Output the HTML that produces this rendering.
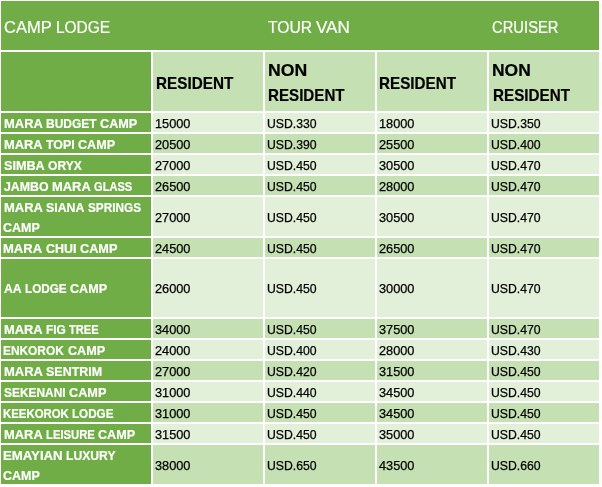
<!DOCTYPE html>
<html lang="en"><head><meta charset="utf-8"><title>Camp Lodge Rates</title>
<style>
html,body{margin:0;padding:0;background:#fff;}
body{width:602px;height:487px;position:relative;overflow:hidden;font-family:"Liberation Sans",sans-serif;}
.c{position:absolute;box-sizing:border-box;}
.t{position:absolute;left:0;white-space:nowrap;display:block;line-height:1;}
.w{position:absolute;top:0;display:block;transform-origin:0 0;white-space:nowrap;}
.h1 .t{color:#fff;font-size:16.8px;-webkit-text-stroke:0.2px #fff;}
.h2 .t{color:#000;font-weight:bold;font-size:15.7px;-webkit-text-stroke:0.2px #000;}
.n .t{color:#fff;font-weight:bold;font-size:13.2px;-webkit-text-stroke:0.2px #fff;}
.v .t{color:#000;font-size:12.6px;-webkit-text-stroke:0.25px #000;}
</style></head><body>

<div class="c h1" style="left:1px;top:1px;width:598px;height:49px;background:#70ad47"><span class="t" id="h1a" style="top:19.28px"><span class="w" style="left:2.66px;transform:scaleX(0.9836)">CAMP</span> <span class="w" style="left:54.69px;transform:scaleX(0.9200)">LODGE</span></span><span class="t" id="h1b" style="top:19.28px"><span class="w" style="left:267.08px;transform:scaleX(0.9326)">TOUR</span> <span class="w" style="left:315.41px;transform:scaleX(1.0170)">VAN</span></span><span class="t" id="h1c" style="top:19.28px"><span class="w" style="left:490.83px;transform:scaleX(0.8810)">CRUISER</span></span></div>
<div class="c h2" style="left:1px;top:52px;width:150px;height:59px;background:#70ad47"></div>
<div class="c h2" style="left:153px;top:52px;width:110px;height:59px;background:#c5e0b3"><span class="t" id="h2a" style="top:24.31px"><span class="w" style="left:2.54px;transform:scaleX(0.9741)">RESIDENT</span></span></div>
<div class="c h2" style="left:265px;top:52px;width:110px;height:59px;background:#c5e0b3"><span class="t" id="h2b1" style="top:11.31px"><span class="w" style="left:3.36px;transform:scaleX(1.1252)">NON</span></span><span class="t" id="h2b2" style="top:36.31px"><span class="w" style="left:3.28px;transform:scaleX(0.9659)">RESIDENT</span></span></div>
<div class="c h2" style="left:377px;top:52px;width:110px;height:59px;background:#c5e0b3"><span class="t" id="h2c" style="top:24.31px"><span class="w" style="left:2.12px;transform:scaleX(0.9708)">RESIDENT</span></span></div>
<div class="c h2" style="left:489px;top:52px;width:110px;height:59px;background:#c5e0b3"><span class="t" id="h2d1" style="top:11.31px"><span class="w" style="left:3.18px;transform:scaleX(1.1129)">NON</span></span><span class="t" id="h2d2" style="top:36.31px"><span class="w" style="left:3.66px;transform:scaleX(0.9699)">RESIDENT</span></span></div>
<div class="c n" style="left:1px;top:113px;width:150px;height:19px;background:#70ad47"><span class="t" id="n0" style="top:3.98px"><span class="w" style="left:2.54px;transform:scaleX(0.9813)">MARA</span> <span class="w" style="left:44.68px;transform:scaleX(0.9088)">BUDGET</span> <span class="w" style="left:98.60px;transform:scaleX(0.9587)">CAMP</span></span></div>
<div class="c v" style="left:153px;top:113px;width:110px;height:19px;background:#e2efd9"><span class="t" id="v0_1" style="top:5.23px"><span class="w" style="left:1.91px;transform:scaleX(1.0125)">15000</span></span></div>
<div class="c v" style="left:265px;top:113px;width:110px;height:19px;background:#e2efd9"><span class="t" id="v0_2" style="top:5.23px"><span class="w" style="left:2.18px;transform:scaleX(0.9715)">USD.330</span></span></div>
<div class="c v" style="left:377px;top:113px;width:110px;height:19px;background:#e2efd9"><span class="t" id="v0_3" style="top:5.23px"><span class="w" style="left:1.91px;transform:scaleX(1.0125)">18000</span></span></div>
<div class="c v" style="left:489px;top:113px;width:110px;height:19px;background:#e2efd9"><span class="t" id="v0_4" style="top:5.23px"><span class="w" style="left:2.18px;transform:scaleX(0.9715)">USD.350</span></span></div>
<div class="c n" style="left:1px;top:134px;width:150px;height:19px;background:#70ad47"><span class="t" id="n1" style="top:3.98px"><span class="w" style="left:2.55px;transform:scaleX(0.9772)">MARA</span> <span class="w" style="left:44.51px;transform:scaleX(0.9412)">TOPI</span> <span class="w" style="left:76.56px;transform:scaleX(0.9547)">CAMP</span></span></div>
<div class="c v" style="left:153px;top:134px;width:110px;height:19px;background:#c5e0b3"><span class="t" id="v1_1" style="top:5.23px"><span class="w" style="left:1.91px;transform:scaleX(1.0125)">20500</span></span></div>
<div class="c v" style="left:265px;top:134px;width:110px;height:19px;background:#c5e0b3"><span class="t" id="v1_2" style="top:5.23px"><span class="w" style="left:2.18px;transform:scaleX(0.9715)">USD.390</span></span></div>
<div class="c v" style="left:377px;top:134px;width:110px;height:19px;background:#c5e0b3"><span class="t" id="v1_3" style="top:5.23px"><span class="w" style="left:1.91px;transform:scaleX(1.0125)">25500</span></span></div>
<div class="c v" style="left:489px;top:134px;width:110px;height:19px;background:#c5e0b3"><span class="t" id="v1_4" style="top:5.23px"><span class="w" style="left:2.18px;transform:scaleX(0.9715)">USD.400</span></span></div>
<div class="c n" style="left:1px;top:155px;width:150px;height:19px;background:#70ad47"><span class="t" id="n2" style="top:3.98px"><span class="w" style="left:2.60px;transform:scaleX(0.9557)">SIMBA</span> <span class="w" style="left:46.51px;transform:scaleX(0.9141)">ORYX</span></span></div>
<div class="c v" style="left:153px;top:155px;width:110px;height:19px;background:#e2efd9"><span class="t" id="v2_1" style="top:5.23px"><span class="w" style="left:1.91px;transform:scaleX(1.0125)">27000</span></span></div>
<div class="c v" style="left:265px;top:155px;width:110px;height:19px;background:#e2efd9"><span class="t" id="v2_2" style="top:5.23px"><span class="w" style="left:2.18px;transform:scaleX(0.9715)">USD.450</span></span></div>
<div class="c v" style="left:377px;top:155px;width:110px;height:19px;background:#e2efd9"><span class="t" id="v2_3" style="top:5.23px"><span class="w" style="left:1.91px;transform:scaleX(1.0125)">30500</span></span></div>
<div class="c v" style="left:489px;top:155px;width:110px;height:19px;background:#e2efd9"><span class="t" id="v2_4" style="top:5.23px"><span class="w" style="left:2.18px;transform:scaleX(0.9715)">USD.470</span></span></div>
<div class="c n" style="left:1px;top:176px;width:150px;height:19px;background:#70ad47"><span class="t" id="n3" style="top:3.98px"><span class="w" style="left:2.71px;transform:scaleX(0.9368)">JAMBO</span> <span class="w" style="left:50.63px;transform:scaleX(0.9801)">MARA</span> <span class="w" style="left:92.72px;transform:scaleX(0.8415)">GLASS</span></span></div>
<div class="c v" style="left:153px;top:176px;width:110px;height:19px;background:#c5e0b3"><span class="t" id="v3_1" style="top:5.23px"><span class="w" style="left:1.91px;transform:scaleX(1.0125)">26500</span></span></div>
<div class="c v" style="left:265px;top:176px;width:110px;height:19px;background:#c5e0b3"><span class="t" id="v3_2" style="top:5.23px"><span class="w" style="left:2.18px;transform:scaleX(0.9715)">USD.450</span></span></div>
<div class="c v" style="left:377px;top:176px;width:110px;height:19px;background:#c5e0b3"><span class="t" id="v3_3" style="top:5.23px"><span class="w" style="left:1.91px;transform:scaleX(1.0125)">28000</span></span></div>
<div class="c v" style="left:489px;top:176px;width:110px;height:19px;background:#c5e0b3"><span class="t" id="v3_4" style="top:5.23px"><span class="w" style="left:2.18px;transform:scaleX(0.9715)">USD.470</span></span></div>
<div class="c n" style="left:1px;top:197px;width:150px;height:39px;background:#70ad47"><span class="t" id="n4a" style="top:4.28px"><span class="w" style="left:2.51px;transform:scaleX(0.9848)">MARA</span> <span class="w" style="left:44.80px;transform:scaleX(0.9359)">SIANA</span> <span class="w" style="left:86.52px;transform:scaleX(0.8930)">SPRINGS</span></span><span class="t" id="n4b" style="top:23.78px"><span class="w" style="left:2.44px;transform:scaleX(0.9460)">CAMP</span></span></div>
<div class="c v" style="left:153px;top:197px;width:110px;height:39px;background:#e2efd9"><span class="t" id="v4_1" style="top:14.93px"><span class="w" style="left:1.91px;transform:scaleX(1.0125)">27000</span></span></div>
<div class="c v" style="left:265px;top:197px;width:110px;height:39px;background:#e2efd9"><span class="t" id="v4_2" style="top:14.93px"><span class="w" style="left:2.18px;transform:scaleX(0.9715)">USD.450</span></span></div>
<div class="c v" style="left:377px;top:197px;width:110px;height:39px;background:#e2efd9"><span class="t" id="v4_3" style="top:14.93px"><span class="w" style="left:1.91px;transform:scaleX(1.0125)">30500</span></span></div>
<div class="c v" style="left:489px;top:197px;width:110px;height:39px;background:#e2efd9"><span class="t" id="v4_4" style="top:14.93px"><span class="w" style="left:2.18px;transform:scaleX(0.9715)">USD.470</span></span></div>
<div class="c n" style="left:1px;top:238px;width:150px;height:19px;background:#70ad47"><span class="t" id="n5" style="top:3.98px"><span class="w" style="left:2.49px;transform:scaleX(0.9870)">MARA</span> <span class="w" style="left:44.87px;transform:scaleX(0.9452)">CHUI</span> <span class="w" style="left:78.68px;transform:scaleX(0.9642)">CAMP</span></span></div>
<div class="c v" style="left:153px;top:238px;width:110px;height:19px;background:#c5e0b3"><span class="t" id="v5_1" style="top:5.23px"><span class="w" style="left:1.91px;transform:scaleX(1.0125)">24500</span></span></div>
<div class="c v" style="left:265px;top:238px;width:110px;height:19px;background:#c5e0b3"><span class="t" id="v5_2" style="top:5.23px"><span class="w" style="left:2.18px;transform:scaleX(0.9715)">USD.450</span></span></div>
<div class="c v" style="left:377px;top:238px;width:110px;height:19px;background:#c5e0b3"><span class="t" id="v5_3" style="top:5.23px"><span class="w" style="left:1.91px;transform:scaleX(1.0125)">26500</span></span></div>
<div class="c v" style="left:489px;top:238px;width:110px;height:19px;background:#c5e0b3"><span class="t" id="v5_4" style="top:5.23px"><span class="w" style="left:2.18px;transform:scaleX(0.9715)">USD.470</span></span></div>
<div class="c n" style="left:1px;top:259px;width:150px;height:58px;background:#70ad47"><span class="t" id="n6" style="top:23.18px"><span class="w" style="left:2.73px;transform:scaleX(0.9280)">AA</span> <span class="w" style="left:23.72px;transform:scaleX(0.8884)">LODGE</span> <span class="w" style="left:68.68px;transform:scaleX(0.9548)">CAMP</span></span></div>
<div class="c v" style="left:153px;top:259px;width:110px;height:58px;background:#e2efd9"><span class="t" id="v6_1" style="top:24.43px"><span class="w" style="left:1.91px;transform:scaleX(1.0125)">26000</span></span></div>
<div class="c v" style="left:265px;top:259px;width:110px;height:58px;background:#e2efd9"><span class="t" id="v6_2" style="top:24.43px"><span class="w" style="left:2.18px;transform:scaleX(0.9715)">USD.450</span></span></div>
<div class="c v" style="left:377px;top:259px;width:110px;height:58px;background:#e2efd9"><span class="t" id="v6_3" style="top:24.43px"><span class="w" style="left:1.91px;transform:scaleX(1.0125)">30000</span></span></div>
<div class="c v" style="left:489px;top:259px;width:110px;height:58px;background:#e2efd9"><span class="t" id="v6_4" style="top:24.43px"><span class="w" style="left:2.18px;transform:scaleX(0.9715)">USD.470</span></span></div>
<div class="c n" style="left:1px;top:319px;width:150px;height:19px;background:#70ad47"><span class="t" id="n7" style="top:3.98px"><span class="w" style="left:2.57px;transform:scaleX(0.9774)">MARA</span> <span class="w" style="left:44.54px;transform:scaleX(0.9050)">FIG</span> <span class="w" style="left:67.73px;transform:scaleX(0.8442)">TREE</span></span></div>
<div class="c v" style="left:153px;top:319px;width:110px;height:19px;background:#c5e0b3"><span class="t" id="v7_1" style="top:5.23px"><span class="w" style="left:1.91px;transform:scaleX(1.0125)">34000</span></span></div>
<div class="c v" style="left:265px;top:319px;width:110px;height:19px;background:#c5e0b3"><span class="t" id="v7_2" style="top:5.23px"><span class="w" style="left:2.18px;transform:scaleX(0.9715)">USD.450</span></span></div>
<div class="c v" style="left:377px;top:319px;width:110px;height:19px;background:#c5e0b3"><span class="t" id="v7_3" style="top:5.23px"><span class="w" style="left:1.91px;transform:scaleX(1.0125)">37500</span></span></div>
<div class="c v" style="left:489px;top:319px;width:110px;height:19px;background:#c5e0b3"><span class="t" id="v7_4" style="top:5.23px"><span class="w" style="left:2.18px;transform:scaleX(0.9715)">USD.470</span></span></div>
<div class="c n" style="left:1px;top:340px;width:150px;height:19px;background:#70ad47"><span class="t" id="n8" style="top:3.98px"><span class="w" style="left:2.48px;transform:scaleX(0.9010)">ENKOROK</span> <span class="w" style="left:66.52px;transform:scaleX(0.9560)">CAMP</span></span></div>
<div class="c v" style="left:153px;top:340px;width:110px;height:19px;background:#e2efd9"><span class="t" id="v8_1" style="top:5.23px"><span class="w" style="left:1.91px;transform:scaleX(1.0125)">24000</span></span></div>
<div class="c v" style="left:265px;top:340px;width:110px;height:19px;background:#e2efd9"><span class="t" id="v8_2" style="top:5.23px"><span class="w" style="left:2.18px;transform:scaleX(0.9715)">USD.400</span></span></div>
<div class="c v" style="left:377px;top:340px;width:110px;height:19px;background:#e2efd9"><span class="t" id="v8_3" style="top:5.23px"><span class="w" style="left:1.91px;transform:scaleX(1.0125)">28000</span></span></div>
<div class="c v" style="left:489px;top:340px;width:110px;height:19px;background:#e2efd9"><span class="t" id="v8_4" style="top:5.23px"><span class="w" style="left:2.18px;transform:scaleX(0.9715)">USD.430</span></span></div>
<div class="c n" style="left:1px;top:361px;width:150px;height:19px;background:#70ad47"><span class="t" id="n9" style="top:3.98px"><span class="w" style="left:2.54px;transform:scaleX(0.9840)">MARA</span> <span class="w" style="left:44.79px;transform:scaleX(0.9458)">SENTRIM</span></span></div>
<div class="c v" style="left:153px;top:361px;width:110px;height:19px;background:#c5e0b3"><span class="t" id="v9_1" style="top:5.23px"><span class="w" style="left:1.91px;transform:scaleX(1.0125)">27000</span></span></div>
<div class="c v" style="left:265px;top:361px;width:110px;height:19px;background:#c5e0b3"><span class="t" id="v9_2" style="top:5.23px"><span class="w" style="left:2.18px;transform:scaleX(0.9715)">USD.420</span></span></div>
<div class="c v" style="left:377px;top:361px;width:110px;height:19px;background:#c5e0b3"><span class="t" id="v9_3" style="top:5.23px"><span class="w" style="left:1.91px;transform:scaleX(1.0125)">31500</span></span></div>
<div class="c v" style="left:489px;top:361px;width:110px;height:19px;background:#c5e0b3"><span class="t" id="v9_4" style="top:5.23px"><span class="w" style="left:2.18px;transform:scaleX(0.9715)">USD.450</span></span></div>
<div class="c n" style="left:1px;top:382px;width:150px;height:19px;background:#70ad47"><span class="t" id="n10" style="top:3.98px"><span class="w" style="left:2.73px;transform:scaleX(0.9035)">SEKENANI</span> <span class="w" style="left:67.64px;transform:scaleX(0.9621)">CAMP</span></span></div>
<div class="c v" style="left:153px;top:382px;width:110px;height:19px;background:#e2efd9"><span class="t" id="v10_1" style="top:5.23px"><span class="w" style="left:1.91px;transform:scaleX(1.0125)">31000</span></span></div>
<div class="c v" style="left:265px;top:382px;width:110px;height:19px;background:#e2efd9"><span class="t" id="v10_2" style="top:5.23px"><span class="w" style="left:2.18px;transform:scaleX(0.9715)">USD.440</span></span></div>
<div class="c v" style="left:377px;top:382px;width:110px;height:19px;background:#e2efd9"><span class="t" id="v10_3" style="top:5.23px"><span class="w" style="left:1.91px;transform:scaleX(1.0125)">34500</span></span></div>
<div class="c v" style="left:489px;top:382px;width:110px;height:19px;background:#e2efd9"><span class="t" id="v10_4" style="top:5.23px"><span class="w" style="left:2.18px;transform:scaleX(0.9715)">USD.450</span></span></div>
<div class="c n" style="left:1px;top:403px;width:150px;height:19px;background:#70ad47"><span class="t" id="n11" style="top:3.98px"><span class="w" style="left:2.23px;transform:scaleX(0.8641)">KEEKOROK</span> <span class="w" style="left:71.36px;transform:scaleX(0.8843)">LODGE</span></span></div>
<div class="c v" style="left:153px;top:403px;width:110px;height:19px;background:#c5e0b3"><span class="t" id="v11_1" style="top:5.23px"><span class="w" style="left:1.91px;transform:scaleX(1.0125)">31000</span></span></div>
<div class="c v" style="left:265px;top:403px;width:110px;height:19px;background:#c5e0b3"><span class="t" id="v11_2" style="top:5.23px"><span class="w" style="left:2.18px;transform:scaleX(0.9715)">USD.450</span></span></div>
<div class="c v" style="left:377px;top:403px;width:110px;height:19px;background:#c5e0b3"><span class="t" id="v11_3" style="top:5.23px"><span class="w" style="left:1.91px;transform:scaleX(1.0125)">34500</span></span></div>
<div class="c v" style="left:489px;top:403px;width:110px;height:19px;background:#c5e0b3"><span class="t" id="v11_4" style="top:5.23px"><span class="w" style="left:2.18px;transform:scaleX(0.9715)">USD.450</span></span></div>
<div class="c n" style="left:1px;top:424px;width:150px;height:19px;background:#70ad47"><span class="t" id="n12" style="top:3.98px"><span class="w" style="left:2.55px;transform:scaleX(0.9788)">MARA</span> <span class="w" style="left:44.58px;transform:scaleX(0.8553)">LEISURE</span> <span class="w" style="left:96.76px;transform:scaleX(0.9563)">CAMP</span></span></div>
<div class="c v" style="left:153px;top:424px;width:110px;height:19px;background:#e2efd9"><span class="t" id="v12_1" style="top:5.23px"><span class="w" style="left:1.91px;transform:scaleX(1.0125)">31500</span></span></div>
<div class="c v" style="left:265px;top:424px;width:110px;height:19px;background:#e2efd9"><span class="t" id="v12_2" style="top:5.23px"><span class="w" style="left:2.18px;transform:scaleX(0.9715)">USD.450</span></span></div>
<div class="c v" style="left:377px;top:424px;width:110px;height:19px;background:#e2efd9"><span class="t" id="v12_3" style="top:5.23px"><span class="w" style="left:1.91px;transform:scaleX(1.0125)">35000</span></span></div>
<div class="c v" style="left:489px;top:424px;width:110px;height:19px;background:#e2efd9"><span class="t" id="v12_4" style="top:5.23px"><span class="w" style="left:2.18px;transform:scaleX(0.9715)">USD.450</span></span></div>
<div class="c n" style="left:1px;top:445px;width:150px;height:39px;background:#70ad47"><span class="t" id="n13a" style="top:4.28px"><span class="w" style="left:2.36px;transform:scaleX(1.0006)">EMAYIAN</span> <span class="w" style="left:65.36px;transform:scaleX(0.9223)">LUXURY</span></span><span class="t" id="n13b" style="top:23.78px"><span class="w" style="left:2.44px;transform:scaleX(0.9460)">CAMP</span></span></div>
<div class="c v" style="left:153px;top:445px;width:110px;height:39px;background:#c5e0b3"><span class="t" id="v13_1" style="top:14.93px"><span class="w" style="left:1.91px;transform:scaleX(1.0125)">38000</span></span></div>
<div class="c v" style="left:265px;top:445px;width:110px;height:39px;background:#c5e0b3"><span class="t" id="v13_2" style="top:14.93px"><span class="w" style="left:2.18px;transform:scaleX(0.9715)">USD.650</span></span></div>
<div class="c v" style="left:377px;top:445px;width:110px;height:39px;background:#c5e0b3"><span class="t" id="v13_3" style="top:14.93px"><span class="w" style="left:1.91px;transform:scaleX(1.0125)">43500</span></span></div>
<div class="c v" style="left:489px;top:445px;width:110px;height:39px;background:#c5e0b3"><span class="t" id="v13_4" style="top:14.93px"><span class="w" style="left:2.18px;transform:scaleX(0.9715)">USD.660</span></span></div>
</body></html>
